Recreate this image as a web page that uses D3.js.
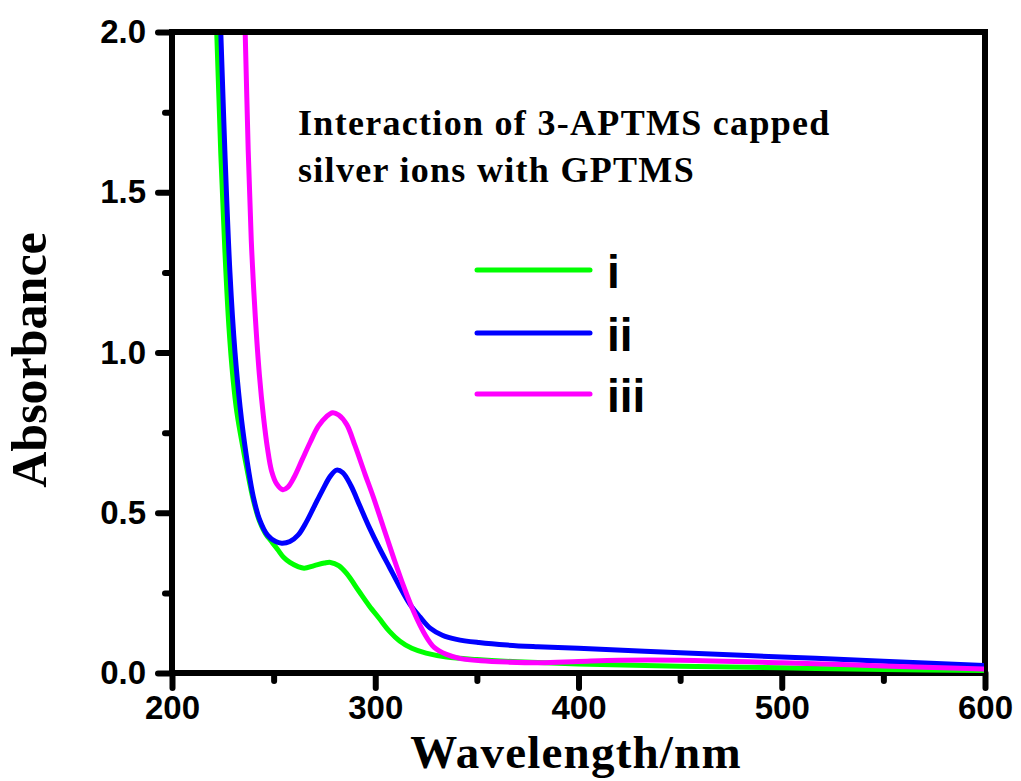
<!DOCTYPE html>
<html>
<head>
<meta charset="utf-8">
<script src="https://cdn.jsdelivr.net/npm/d3@7"></script>
<style>
  body { margin: 0; background: #fff; }
  svg { display: block; }
</style>
</head>
<body>
<svg id="chart"></svg>
<script>
// spectra (wavelength nm, absorbance)
const wlI = [220, 222, 224, 226, 228, 230, 232, 235, 238, 240, 243, 246, 249, 252, 255, 258, 262, 265, 270, 275, 278, 282, 286, 292, 297, 302, 307, 312, 318, 325, 335, 350, 370, 400, 450, 500, 550, 600];
const absI = [2.3, 2.0, 1.62, 1.32, 1.08, 0.92, 0.81, 0.70, 0.60, 0.54, 0.475, 0.435, 0.41, 0.385, 0.36, 0.345, 0.332, 0.327, 0.335, 0.343, 0.345, 0.335, 0.31, 0.255, 0.21, 0.17, 0.13, 0.10, 0.077, 0.062, 0.05, 0.042, 0.035, 0.028, 0.021, 0.016, 0.011, 0.008];

const wlII = [222, 224, 226, 228.5, 231, 233.5, 235, 237.6, 240, 243, 247, 251, 254, 258, 262, 266, 270, 274, 278, 281, 284, 288, 292.5, 297, 302, 307, 312, 317, 322, 327, 333, 340, 351, 365, 380, 400, 450, 500, 550, 600];
const absII = [2.3, 2.0, 1.63, 1.25, 1.0, 0.83, 0.75, 0.635, 0.55, 0.48, 0.43, 0.41, 0.405, 0.41, 0.43, 0.47, 0.52, 0.57, 0.615, 0.633, 0.625, 0.585, 0.52, 0.455, 0.39, 0.33, 0.27, 0.215, 0.175, 0.14, 0.118, 0.105, 0.095, 0.087, 0.082, 0.077, 0.063, 0.05, 0.037, 0.023];

const wlIII = [235, 236, 237.5, 239, 241, 243, 245, 247, 249, 251.5, 254.5, 257, 260, 264, 268, 272, 276, 279, 282, 286, 290, 295, 299, 304, 309, 314, 319, 324, 329, 335, 342, 352, 365, 381, 400, 420, 450, 500, 550, 600];
const absIII = [2.2, 2.0, 1.63, 1.35, 1.11, 0.93, 0.80, 0.70, 0.63, 0.59, 0.572, 0.58, 0.61, 0.665, 0.72, 0.77, 0.80, 0.812, 0.805, 0.775, 0.71, 0.62, 0.55, 0.455, 0.36, 0.27, 0.19, 0.125, 0.08, 0.058, 0.045, 0.038, 0.034, 0.032, 0.036, 0.04, 0.04, 0.032, 0.022, 0.012];

const seriesNames = ["i", "ii", "iii"];
const seriesColors = ["#00ff00", "#0000ff", "#ff00ff"];

const xTicks = [200, 300, 400, 500, 600];
const xMinor = [250, 350, 450, 550];
const yTicks = [0.0, 0.5, 1.0, 1.5, 2.0];
const yMinor = [0.25, 0.75, 1.25, 1.75];

const width = 1021, height = 781;
const margin = { top: 32, right: 36, bottom: 108, left: 172 };
const iw = width - margin.left - margin.right,
  ih = height - margin.top - margin.bottom;

const svg = d3.select("#chart").attr("width", width).attr("height", height);
const g = svg.append("g").attr("transform", "translate(" + margin.left + "," + margin.top + ")");

const x = d3.scaleLinear().domain([200, 600]).range([0, iw]);
const y = d3.scaleLinear().domain([0, 2]).range([ih, 0]);

const sans = "Arial, 'Liberation Sans', sans-serif";
const serif = "'Times New Roman', 'Liberation Serif', serif";

// minor ticks
g.append("g")
  .attr("transform", "translate(0," + ih + ")")
  .call(d3.axisBottom(x).tickValues(xMinor).tickSize(8).tickFormat(""));
g.append("g")
  .call(d3.axisLeft(y).tickValues(yMinor).tickSize(7).tickFormat(""));

// major ticks + labels
g.append("g")
  .attr("transform", "translate(0," + ih + ")")
  .call(d3.axisBottom(x).tickValues(xTicks).tickSize(15).tickPadding(8).tickFormat(d3.format("d")));
g.append("g")
  .call(d3.axisLeft(y).tickValues(yTicks).tickSize(14).tickPadding(12).tickFormat(d3.format(".1f")));

g.selectAll(".domain").remove();
g.selectAll(".tick line")
  .attr("stroke", "#000")
  .attr("stroke-width", 6)
  .attr("stroke-linecap", "round");
g.selectAll(".tick text")
  .attr("fill", "#000")
  .style("font-family", sans)
  .style("font-weight", "bold")
  .style("font-size", "33px");

// frame
g.append("rect")
  .attr("width", iw)
  .attr("height", ih)
  .attr("fill", "none")
  .attr("stroke", "#000")
  .attr("stroke-width", 6);

// curves
svg.append("defs").append("clipPath").attr("id", "clip")
  .append("rect").attr("x", 0).attr("y", 3).attr("width", iw - 1).attr("height", ih);

const line = d3.line()
  .x(d => x(d[0]))
  .y(d => y(d[1]))
  .curve(d3.curveCatmullRom.alpha(0.5));

const allSeries = [
  d3.zip(wlI, absI),
  d3.zip(wlII, absII),
  d3.zip(wlIII, absIII)
];

g.append("g").attr("clip-path", "url(#clip)")
  .selectAll("path")
  .data(allSeries)
  .enter()
  .append("path")
  .attr("d", line)
  .attr("fill", "none")
  .attr("stroke", (d, i) => seriesColors[i])
  .attr("stroke-width", 5)
  .attr("stroke-linejoin", "round");

// legend
const legendY = [270, 333, 394];
const lg = svg.append("g")
  .selectAll("g")
  .data(seriesNames)
  .enter()
  .append("g")
  .attr("transform", (d, i) => "translate(0," + legendY[i] + ")");
lg.append("line")
  .attr("x1", 477).attr("x2", 590)
  .attr("stroke", (d, i) => seriesColors[i])
  .attr("stroke-width", 5)
  .attr("stroke-linecap", "round");
lg.append("text")
  .attr("x", 607)
  .attr("y", 18)
  .style("font-family", sans)
  .style("font-weight", "bold")
  .style("font-size", "46px")
  .text(d => d);

// annotation
const note = svg.append("text")
  .style("font-family", serif)
  .style("font-weight", "bold")
  .style("font-size", "36px")
  .style("letter-spacing", "1.3px");
note.append("tspan").attr("x", 298).attr("y", 135).text("Interaction of 3-APTMS capped");
note.append("tspan").attr("x", 298).attr("y", 182).text("silver ions with GPTMS");

// axis titles
svg.append("text")
  .attr("x", 576)
  .attr("y", 768)
  .attr("text-anchor", "middle")
  .style("font-family", serif)
  .style("font-weight", "bold")
  .style("font-size", "47px")
  .style("letter-spacing", "1.2px")
  .text("Wavelength/nm");

svg.append("text")
  .attr("transform", "translate(46,360) rotate(-90)")
  .attr("text-anchor", "middle")
  .style("font-family", serif)
  .style("font-weight", "bold")
  .style("font-size", "50px")
  .text("Absorbance");
</script>
</body>
</html>
